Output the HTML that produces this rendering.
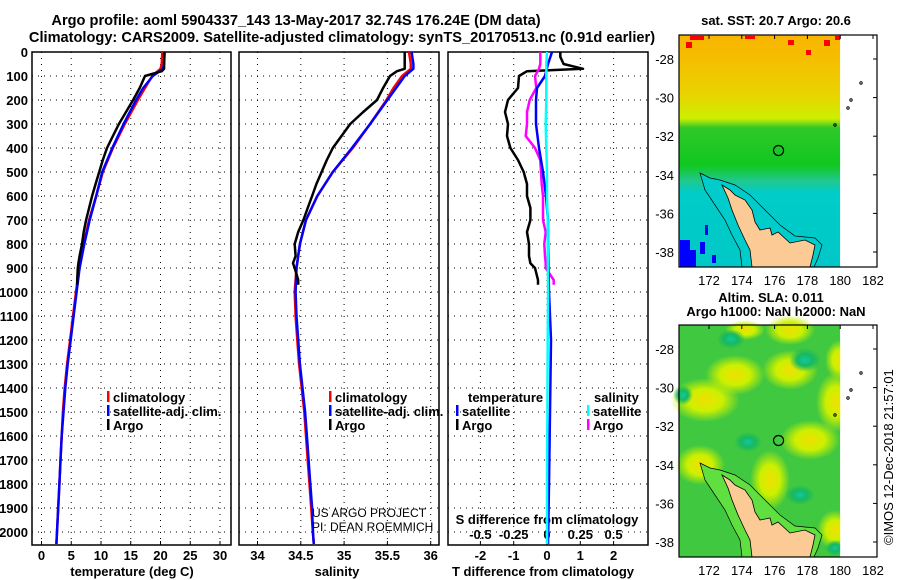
<!DOCTYPE html>
<html><head><meta charset="utf-8"><style>
html,body{margin:0;padding:0;background:#fff;}
svg{display:block;font-family:"Liberation Sans",sans-serif;font-weight:bold;}
</style></head><body>
<svg id="c" width="900" height="580" viewBox="0 0 900 580">
<defs>
<linearGradient id="sstg" x1="0" y1="0" x2="0" y2="1">
<stop offset="0" stop-color="#f8b400"/><stop offset="0.12" stop-color="#f4c000"/><stop offset="0.26" stop-color="#e8d400"/>
<stop offset="0.36" stop-color="#ccf000"/><stop offset="0.40" stop-color="#30c828"/><stop offset="0.56" stop-color="#10c820"/>
<stop offset="0.63" stop-color="#20c890"/><stop offset="0.68" stop-color="#00ccc8"/><stop offset="1" stop-color="#00c8c8"/>
</linearGradient>
<radialGradient id="yb"><stop offset="0" stop-color="#f0e000"/><stop offset="0.5" stop-color="#ccf000"/><stop offset="1" stop-color="#ccf000" stop-opacity="0"/></radialGradient>
<radialGradient id="tb"><stop offset="0" stop-color="#10c8a0"/><stop offset="0.5" stop-color="#18b860"/><stop offset="1" stop-color="#18b860" stop-opacity="0"/></radialGradient>
</defs>
<g id="titles" font-size="14.6">
<text x="296" y="25" text-anchor="middle">Argo profile: aoml 5904337_143 13-May-2017 32.74S 176.24E (DM data)</text>
<text x="342" y="42" text-anchor="middle">Climatology: CARS2009. Satellite-adjusted climatology: synTS_20170513.nc (0.91d earlier)</text>
</g>
<g id="plots"></g>
<g id="maps"></g>
</svg>
<script>
// ---- data ----
const depthTicks=[0,100,200,300,400,500,600,700,800,900,1000,1100,1200,1300,1400,1500,1600,1700,1800,1900,2000];
const tempTicks=[0,5,10,15,20,25,30];
const salTicks=[34,34.5,35,35.5,36];
const diffTTicks=[-2,-1,0,1,2];
const diffSTicks=[-0.5,-0.25,0,0.25,0.5];
const argoDepth=[0,20,50,70,80,100,150,200,250,300,350,400,450,500,550,600,650,700,750,800,850,880,900,950,970];
const argoTemp=[20.6,20.6,20.6,20.6,20.2,17.4,16.5,15.4,14.2,13.0,12.0,11.0,10.3,9.7,9.1,8.5,8.0,7.5,7.1,6.8,6.4,6.2,6.1,6.0,6.0];
const argoSal=[35.70,35.70,35.70,35.70,35.61,35.53,35.45,35.38,35.22,35.07,34.97,34.87,34.80,34.74,34.68,34.63,34.58,34.53,34.47,34.43,34.44,34.41,34.43,34.47,34.47];
const climDepth=[0,50,70,100,150,200,300,400,500,600,700,800,900,1000,1100,1200,1300,1400,1500,1600,1700,1800,1900,2000,2050];
const climTemp=[20.3,20.2,20.0,18.6,17.4,16.2,14.0,12.0,10.3,9.2,8.0,7.1,6.3,5.8,5.3,4.8,4.3,3.9,3.6,3.4,3.2,3.0,2.8,2.6,2.5];
const climSal=[35.75,35.77,35.77,35.67,35.57,35.49,35.30,35.10,34.87,34.69,34.56,34.49,34.45,34.43,34.44,34.46,34.48,34.51,34.54,34.56,34.58,34.60,34.62,34.64,34.65];
const satTemp=[20.7,20.6,20.4,18.7,17.1,15.9,13.8,11.9,10.2,9.2,8.1,7.2,6.4,5.9,5.4,4.9,4.4,4.0,3.7,3.4,3.2,3.0,2.8,2.6,2.5];
const satSal=[35.78,35.80,35.80,35.70,35.60,35.50,35.30,35.09,34.87,34.69,34.56,34.49,34.45,34.44,34.45,34.47,34.49,34.52,34.55,34.57,34.59,34.61,34.63,34.64,34.65];
const dTArgoDepth=[0,20,50,70,80,100,150,200,250,300,350,400,450,500,550,600,650,700,750,800,850,880,900,950,970];
const dTArgo=[0.4,0.4,0.5,1.08,-0.6,-0.84,-0.87,-1.17,-1.26,-1.17,-1.2,-1.1,-0.87,-0.7,-0.6,-0.6,-0.5,-0.5,-0.6,-0.54,-0.54,-0.5,-0.36,-0.27,-0.27];
const dSArgo=[-0.05,-0.05,-0.05,-0.06,-0.07,-0.09,-0.08,-0.13,-0.15,-0.15,-0.16,-0.09,-0.05,-0.045,-0.04,-0.03,-0.03,-0.03,-0.01,-0.02,-0.015,-0.01,-0.01,0.05,0.05];
const dSatDepth=[0,50,100,150,200,300,400,500,600,700,800,1000,1200,1500,1800,2050];
const dTSat=[0.15,0.03,-0.06,-0.3,-0.33,-0.33,-0.24,-0.12,-0.03,0.03,0.03,0.06,0.12,0.09,0.06,0.03];
const dSSat=[0.0,-0.005,-0.005,-0.005,-0.005,-0.01,-0.005,0.0,0.0,0.005,0.005,0.008,0.005,0.003,0.0,0.0];
const latTicks=[-28,-30,-32,-34,-36,-38];
const lonTicks=[172,174,176,178,180,182];
const argoLon=176.24, argoLat=-32.74;

const NS="http://www.w3.org/2000/svg";
function el(tag,attrs,parent,text){const e=document.createElementNS(NS,tag);for(const k in attrs)e.setAttribute(k,attrs[k]);if(text!==undefined)e.textContent=text;parent.appendChild(e);return e;}
const plots=document.getElementById('plots');
const yD=d=>52+d*0.24;
const pTop=52,pBot=545;
const xT=t=>41.5+t*5.95;
const xS=s=>257.5+(s-34)*86.6;
const xDT=t=>547+t*33.3;
const xDS=s=>547+s*133.2;
const panels=[[32,231],[239,439],[448,648]];

panels.forEach((p,i)=>{
  const g=el('g',{},plots);
  
  
  depthTicks.forEach(d=>{
    const l=el('line',{x1:p[0],x2:p[1],y1:yD(d),y2:yD(d),stroke:'#000','stroke-width':1,'stroke-dasharray':'1 5'},g);
    
    
  });
  const vt=i===0?tempTicks.map(xT):i===1?salTicks.map(xS):diffTTicks.map(xDT);
  vt.forEach(x=>{
    const l=el('line',{x1:x,x2:x,y1:pTop,y2:pBot,stroke:'#000','stroke-width':1,'stroke-dasharray':'1 5'},g);
    
    
    el('line',{x1:x,x2:x,y1:pBot,y2:pBot-4,stroke:'#000'},g);
  });
  const r=el('rect',{x:p[0],y:pTop,width:p[1]-p[0],height:pBot-pTop,fill:'none',stroke:'#000','stroke-width':1.5},g);
  
  
});
depthTicks.forEach(d=>{
  const t=el('text',{x:28,y:yD(d)+5,'text-anchor':'end','font-size':13},plots,String(d));
  
  
});
function ticksLbl(vals,fx,y){vals.forEach(v=>{const t=el('text',{x:fx(v),y:y,'text-anchor':'middle','font-size':13},plots,String(v));
  
  });}
ticksLbl(tempTicks,xT,560);
ticksLbl(salTicks,xS,560);
ticksLbl(diffTTicks,xDT,560);
ticksLbl(diffSTicks,xDS,539);
function axTitle(x,y,s,n){const t=el('text',{x:x,y:y,'text-anchor':'middle','font-size':13},plots,s);
  
  }
axTitle(132,576,'temperature (deg C)','temperature-axis-title');
axTitle(337,576,'salinity','salinity-axis-title');
axTitle(543,576,'T difference from climatology','t-diff-axis-title');
axTitle(547,524,'S difference from climatology','s-diff-axis-title');

function line(xs,ds,fx,color,w,name){
  const pts=xs.map((v,i)=>fx(v).toFixed(1)+','+yD(ds[i]).toFixed(1)).join(' ');
  const l=el('polyline',{points:pts,fill:'none',stroke:color,'stroke-width':w,'stroke-linejoin':'round'},plots);
  
  
}
line(climTemp,climDepth,xT,'#f00',2.5,'temp-climatology-line');
line(satTemp,climDepth,xT,'#00f',2.5,'temp-satellite-line');
line(argoTemp,argoDepth,xT,'#000',2.5,'temp-argo-line');
line(climSal,climDepth,xS,'#f00',2.5,'sal-climatology-line');
line(satSal,climDepth,xS,'#00f',2.5,'sal-satellite-line');
line(argoSal,argoDepth,xS,'#000',2.5,'sal-argo-line');
line(dTArgo,dTArgoDepth,xDT,'#000',2.5,'tdiff-argo-line');
line(dSArgo,dTArgoDepth,xDS,'#f0f',2.5,'sdiff-argo-line');
line(dTSat,dSatDepth,xDT,'#00f',2.5,'tdiff-satellite-line');
line(dSSat,dSatDepth,xDS,'#0ff',2.5,'sdiff-satellite-line');

function legend(x,y,items,name){items.forEach((it,i)=>{
  const g=el('g',{},plots);
  
  
  if(it[1])el('rect',{x:x,y:y+i*14-11,width:2.5,height:11,fill:it[1]},g);
  el('text',{x:x+6,y:y+i*14,'font-size':13},g,it[0]);});}
legend(107,402,[['climatology','#f00'],['satellite-adj. clim.','#00f'],['Argo','#000']],'temp-legend-entry');
legend(329,402,[['climatology','#f00'],['satellite-adj. clim.','#00f'],['Argo','#000']],'sal-legend-entry');
legend(462,402,[['temperature',null]],'tdiff-legend-header');
legend(456,416,[['satellite','#00f'],['Argo','#000']],'tdiff-legend-entry');
legend(588,402,[['salinity',null]],'sdiff-legend-header');
legend(587,416,[['satellite','#0ff'],['Argo','#f0f']],'sdiff-legend-entry');
const cr=el('text',{x:312,y:517,'font-size':12,'font-weight':'normal'},plots,'US ARGO PROJECT');


const cr2=el('text',{x:312,y:531,'font-size':12,'font-weight':'normal'},plots,'PI: DEAN ROEMMICH');



// ---- maps ----
const maps=document.getElementById('maps');
function drawMap(y0,y1,title,kind){
  const x0=679,x1=877;
  const lx=lon=>709+(lon-172)*16.4;
  const ly=lat=>(y0+24)+(-28-lat)*19.3;
  const g=el('g',{},maps);
  
  
  const dx=lx(180);
  if(kind==='sst'){
    el('rect',{x:x0,y:y0,width:dx-x0,height:y1-y0,fill:'url(#sstg)'},g);
    [[690,36,14,4],[745,36,10,3],[686,42,6,6],[788,40,6,5],[806,50,5,5],[824,40,6,6],[835,36,6,4]].forEach(r=>el('rect',{x:r[0],y:r[1],width:r[2],height:r[3],fill:'#f00'},g));
    [[680,240,10,27],[690,250,6,17],[700,242,5,12],[712,255,4,8],[705,225,3,10]].forEach(r=>el('rect',{x:r[0],y:r[1],width:r[2],height:r[3],fill:'#00f'},g));
  } else {
    el('rect',{x:x0,y:y0,width:dx-x0,height:y1-y0,fill:'#40c840'},g);
    [[705,400,35,22],[735,375,30,20],[790,370,28,20],[836,402,20,30],[790,330,25,15],[745,330,20,10],[810,440,30,20],[835,530,18,20],[700,465,25,20],[770,480,20,30],[840,360,15,20]].forEach(b=>el('ellipse',{cx:b[0],cy:b[1],rx:b[2],ry:b[3],fill:'url(#yb)'},g));
    [[731,339,14,10],[805,360,16,12],[748,442,14,10],[683,395,10,10],[800,495,15,10],[835,548,10,8]].forEach(b=>el('ellipse',{cx:b[0],cy:b[1],rx:b[2],ry:b[3],fill:'url(#tb)'},g));
  }
  const off=y0-35;
  const land=[[722,185],[730,190],[735,195],[745,200],[752,210],[755,222],[760,230],[770,228],[772,235],[778,232],[790,243],[805,240],[815,245],[813,255],[810,267],[752,267],[750,250],[745,240],[738,225],[732,210],[728,198]];
  const halo=[[700,173],[710,178],[720,180],[735,185],[750,195],[760,205],[770,215],[780,225],[795,236],[815,238],[822,245],[818,258],[814,267],[742,267],[740,250],[732,235],[725,220],[715,205],[705,190]];
  el('polygon',{points:halo.map(p=>p[0]+','+(p[1]+off)).join(' '),fill:kind==='sst'?'#00cccc':'#60e040',stroke:'#000','stroke-width':0.7},g);
  el('polygon',{points:land.map(p=>p[0]+','+(p[1]+off)).join(' '),fill:'#fccb95',stroke:'#000','stroke-width':0.8},g);
  el('rect',{x:dx,y:y0,width:x1-dx,height:y1-y0,fill:'#fff'},g);
  [[861,y0+48],[851,y0+65],[848,y0+73],[835,y0+90]].forEach(p=>el('circle',{cx:p[0],cy:p[1],r:1.2,fill:'none',stroke:'#000'},g));
  const fr=el('rect',{x:x0,y:y0,width:x1-x0,height:y1-y0,fill:'none',stroke:'#000','stroke-width':1.2},g);
  
  
  const c=el('circle',{cx:lx(argoLon),cy:ly(argoLat),r:5,fill:'none',stroke:'#000','stroke-width':1.2},g);
  
  
  latTicks.forEach(l=>{
    const t=el('text',{x:674,y:ly(l)+5,'text-anchor':'end','font-size':13,'font-weight':'normal'},g,String(l));
    
    
    el('line',{x1:x1,x2:x1-4,y1:ly(l),y2:ly(l),stroke:'#000'},g);
  });
  lonTicks.forEach(l=>{
    const t=el('text',{x:lx(l),y:y1+18,'text-anchor':'middle','font-size':13,'font-weight':'normal'},g,String(l));
    
    
    el('line',{x1:lx(l),x2:lx(l),y1:y0,y2:y0+4,stroke:'#000'},g);
  });
  title.forEach(s=>{
    const t=el('text',{x:s[1],y:s[2],'text-anchor':'middle','font-size':13},g,s[0]);
    
    
  });
}
drawMap(35,267,[['sat. SST: 20.7 Argo: 20.6',776,25]],'sst');
drawMap(325,557,[['Altim. SLA: 0.011',771,302],['Argo h1000: NaN h2000: NaN',776,316]],'sla');
const im=el('text',{x:0,y:0,'font-size':13,'font-weight':'normal',transform:'translate(893,545) rotate(-90)'},maps,'©IMOS 12-Dec-2018 21:57:01');


</script>
</body></html>
